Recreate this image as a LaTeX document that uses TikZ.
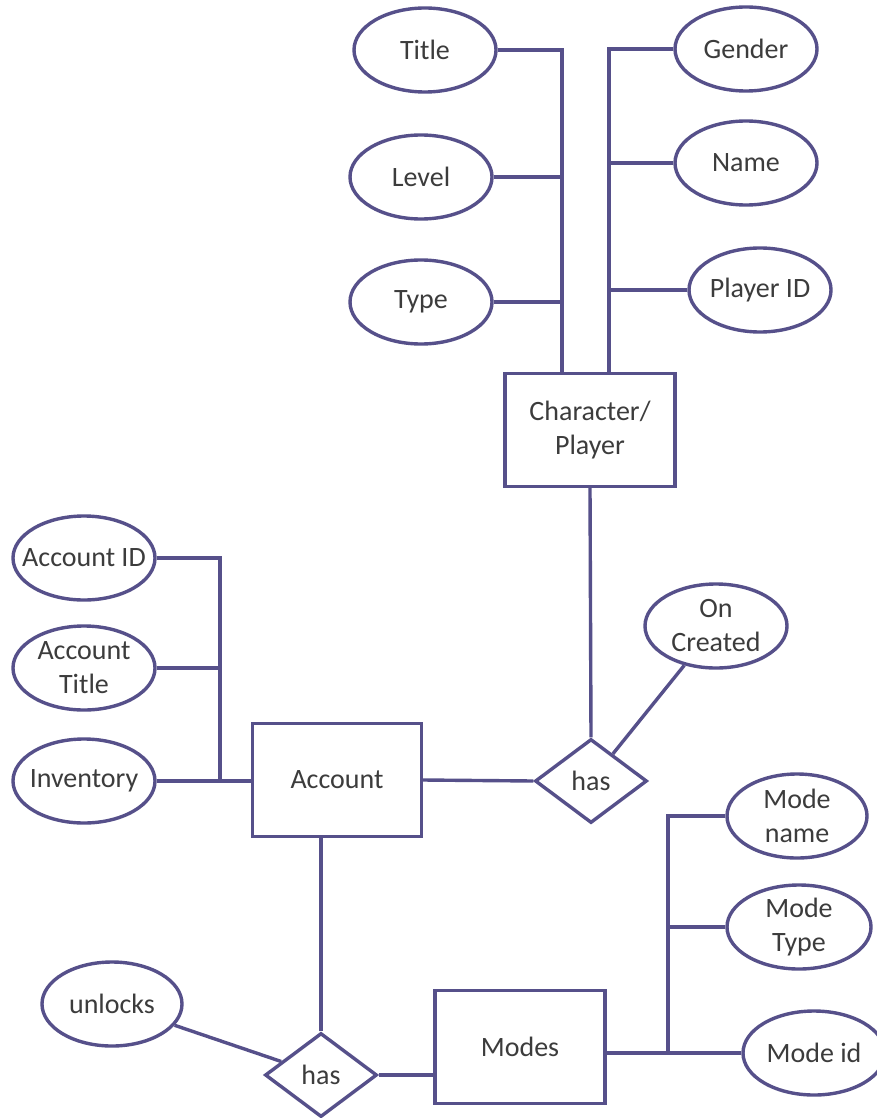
\documentclass[tikz,border=0pt]{standalone}
\usepackage{fontspec}
\setmainfont{Carlito}
\usetikzlibrary{shapes.geometric}
\definecolor{erline}{RGB}{86,80,138}
\definecolor{ertext}{RGB}{60,60,60}
\begin{document}
\begin{tikzpicture}[x=1pt,y=-1pt,
  every node/.style={text=ertext, font=\fontsize{28}{34}\selectfont, align=center, inner sep=0pt},
  attr/.style={ellipse, draw=erline, line width=3.4pt, inner xsep=-25pt, inner ysep=-10pt,
    minimum width=142pt, minimum height=84pt},
  entity/.style={rectangle, draw=erline, line width=3.4pt, minimum width=170pt, minimum height=113pt},
  rel/.style={diamond, draw=erline, line width=3.4pt, minimum width=112pt, minimum height=84pt},
  link/.style={draw=erline, line width=3.4pt}]
\useasboundingbox (0,0) rectangle (877,1118);
\fill[white] (0,0) rectangle (877,1118);

% Character/Player entity and its attributes
\node[attr] (title)  at (425,50)  {Title};
\node[attr] (level)  at (421,177) {Level};
\node[attr] (type)   at (421,302) {Type};
\node[attr] (gender) at (746,49)  {Gender};
\node[attr] (name)   at (746,163) {Name};
\node[attr] (pid)    at (760,290) {Player ID};
\node[entity] (char) at (590,430) {Character/\\Player};

% Relationship between account and character
\node[rel]  (has1) at (591,781) {has};
\node[attr] (oncr) at (716,626) {On\\Created};

% Account entity and its attributes
\node[entity, minimum width=169pt] (acc) at (337,780) {Account};
\node[attr] (aid)    at (84,558) {Account ID};
\node[attr] (atitle) at (84,668) {Account\\Title};
\node[attr] (inv)    at (84,781) {Inventory};

% Relationship between account and modes
\node[rel]  (has2) at (321,1075) {has};
\node[attr, minimum width=140pt] (unl) at (112,1004) {unlocks};

% Modes entity and its attributes
\node[entity, minimum width=170pt] (modes) at (520,1047) {Modes};
\node[attr, minimum width=140pt] (mname) at (797,816)  {Mode\\name};
\node[attr, minimum width=144pt] (mtype) at (799,927)  {Mode\\Type};
\node[attr] (mid)   at (814,1053) {Mode id};

% bus coordinates
\coordinate (lbt) at (562,50);
\coordinate (rbt) at (609,49);
\coordinate (abt) at (220,558);
\coordinate (mbt) at (668,816);

% character attribute buses
\draw[link] (title.east) -- (lbt) -- (lbt |- char.north);
\draw[link] (level.east) -- (level.east -| lbt);
\draw[link] (type.east) -- (type.east -| lbt);
\draw[link] (gender.west) -- (rbt) -- (rbt |- char.north);
\draw[link] (name.west) -- (name.west -| rbt);
\draw[link] (pid.west) -- (pid.west -| rbt);

% character -- has -- account
\draw[link] (char.south) -- (has1.north);
\draw[link] (oncr) -- (has1);
\draw[link] (acc.east) -- (has1.west);

% account attribute bus
\draw[link] (aid.east) -- (abt) -- (abt |- inv.east);
\draw[link] (atitle.east) -- (atitle.east -| abt);
\draw[link] (inv.east) -- (inv.east -| acc.west);

% account -- has -- modes
\draw[link] (has2.north) -- (has2.north |- acc.south);
\draw[link] (unl) -- (has2);
\draw[link] (has2.east) -- (has2.east -| modes.west);

% modes attribute bus
\draw[link] (mname.west) -- (mbt) -- (mbt |- mid.west);
\draw[link] (mtype.west) -- (mtype.west -| mbt);
\draw[link] (modes.east |- mid.west) -- (mid.west);
\end{tikzpicture}
\end{document}
